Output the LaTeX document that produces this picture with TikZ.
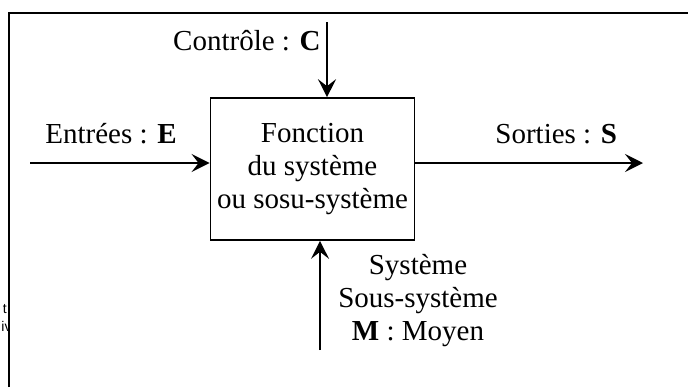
\documentclass[tikz,border=0pt]{standalone}
\usepackage{fontspec}
\setmainfont{Liberation Serif}
\newfontfamily\cutfont{Liberation Sans}
\usetikzlibrary{arrows.meta}
\tikzset{
  flux/.style={line width=1pt,-{Stealth[length=9pt,width=9pt,inset=3.5pt]}},
  lbl/.style={font=\fontsize{14.5}{16.5}\selectfont,inner sep=0pt},
  bout/.style={font=\cutfont\fontsize{7}{8}\selectfont,inner sep=0pt,anchor=base west},
}
\begin{document}
\begin{tikzpicture}[x=0.5pt,y=-0.5pt]
\useasboundingbox (0,0) rectangle (688,387);
\draw [line width=1pt] (9,387) -- (9,13) -- (688,13);
\node [draw,line width=0.8pt,minimum width=100.5pt,minimum height=71pt,align=center,
  font=\fontsize{14.5}{16.5}\selectfont] (fct) at (312.5,169)
  {Fonction\\du système\\ou sosu-système};
% flux entrant / sortant
\coordinate (ein) at (30,163);
\coordinate (sout) at (643,163);
\coordinate (cin) at (327,22);
\coordinate (min) at (320,350);
\draw [flux] (ein) -- (ein -| fct.west);
\draw [flux] (sout -| fct.east) -- (sout);
\draw [flux] (cin) -- (cin |- fct.north);
\draw [flux] (min) -- (min |- fct.south);
\node [lbl,anchor=base east] (ctl) at (321,50) {Contrôle : \textbf{C}};
\node [lbl,anchor=base west] (ent) at (45,143) {Entrées : \textbf{E}};
\node [lbl,anchor=base west] (sor) at (495,143) {Sorties : \textbf{S}};
\node [lbl,anchor=base,align=center] (moy) at (418,340)
  {Système\\Sous-système\\\textbf{M} : Moyen};
% bouts de texte coupés
\begin{scope}
\clip (0,290) rectangle (8,340);
\node [bout] (t1) at (2.5,313) {t};
\node [bout] (t2) at (1,331) {iv};
\end{scope}
\end{tikzpicture}
\end{document}
